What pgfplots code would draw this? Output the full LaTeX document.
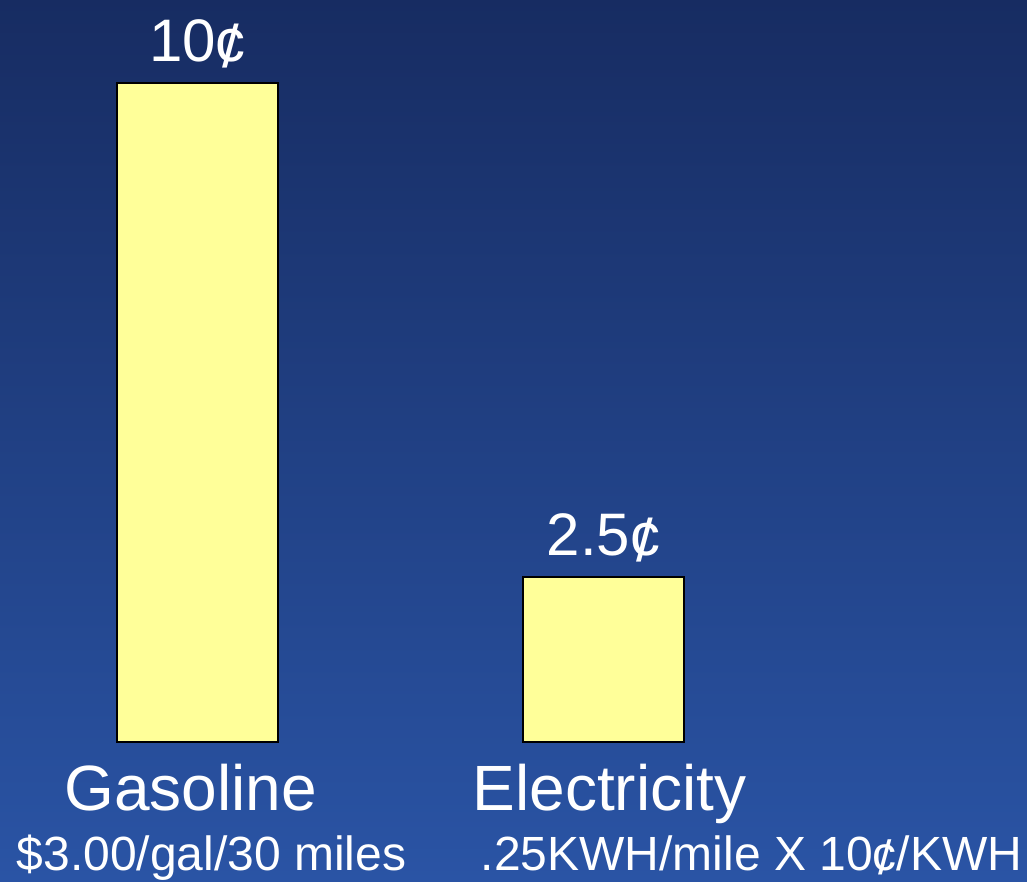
\documentclass[border=0pt]{standalone}
\usepackage{fontspec}
\setmainfont{Liberation Sans}
\usepackage{pgfplots}
\pgfplotsset{compat=1.18}

\definecolor{bgtop}{RGB}{23,44,98}
\definecolor{bgbot}{RGB}{42,84,165}
\definecolor{barfill}{RGB}{255,255,153}

% cent sign drawn as c with a slanted stroke, as in the slide
\newcommand\cent{\ooalign{\hfil c\hfil\cr\hfil\raisebox{-0.1em}{/}\hfil}}

\begin{document}
\begin{tikzpicture}
  \fill[top color=bgtop, bottom color=bgbot] (0,0) rectangle (1027pt,881pt);
  \begin{axis}[
      at={(0pt,139pt)}, anchor=south west,
      scale only axis, width=1027pt, height=742pt,
      xmin=-0.4865, xmax=2.043, ymin=0, ymax=11.26,
      hide axis, clip=false,
      ybar, bar width=161pt,
      nodes near coords={\pgfmathprintnumber[assume math mode=true]{\pgfplotspointmeta}\cent},
      every node near coord/.append style={anchor=base, yshift=22pt,
        text=white, font=\fontsize{60}{72}\selectfont},
    ]
    \addplot[draw=black, line width=2pt, fill=barfill] coordinates {(0,10) (1,2.5)};
    \node[anchor=base, text=white, font=\fontsize{64}{77}\selectfont]
      at (axis cs:0,0) [xshift=-7pt, yshift=-68pt] {Gasoline};
    \node[anchor=base, text=white, font=\fontsize{64}{77}\selectfont]
      at (axis cs:1,0) [xshift=6pt, yshift=-68pt] {Electricity};
    \node[anchor=base, text=white, font=\fontsize{48}{58}\selectfont]
      at (axis cs:0,0) [xshift=14pt, yshift=-128pt] {\$3.00/gal/30 miles};
    \node[anchor=base, text=white, font=\fontsize{48}{58}\selectfont]
      at (axis cs:1,0) [xshift=148pt, yshift=-128pt] {.25KWH/mile X 10\cent/KWH};
  \end{axis}
  \pgfresetboundingbox
  \useasboundingbox (0,0) rectangle (1027pt,881pt);
\end{tikzpicture}
\end{document}
